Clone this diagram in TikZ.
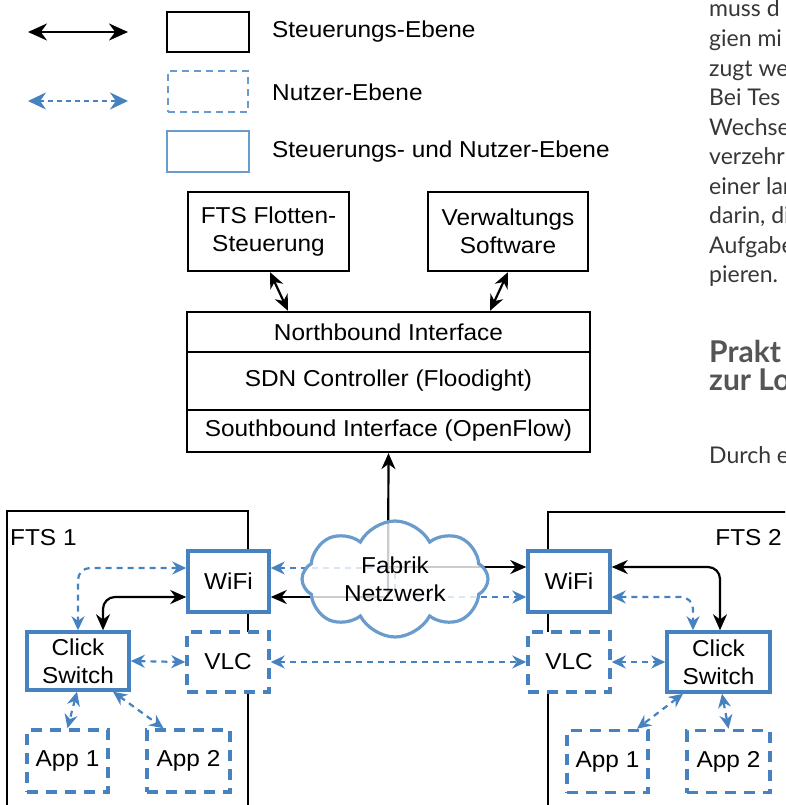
\documentclass[tikz,border=0pt]{standalone}
\usepackage{fontspec}
\setmainfont{Liberation Sans}[FakeStretch=1.06]
\newfontfamily\bodyfont{Lato}
\usetikzlibrary{arrows.meta,shapes.symbols}
\definecolor{bl}{RGB}{70,130,192}
\definecolor{bll}{RGB}{105,155,205}
\definecolor{txtg}{RGB}{55,55,55}
\definecolor{headg}{RGB}{85,85,85}
\begin{document}
\begin{tikzpicture}[x=1pt,y=-1pt,
  every node/.style={font=\fontsize{23pt}{28pt}\selectfont, inner sep=0pt},
  ctrlbox/.style={draw=black, line width=2.3pt, fill=white, align=center},
  bothbox/.style={draw=bl, line width=3.5pt, fill=white, align=center},
  userbox/.style={draw=bl, line width=3.5pt, dash pattern=on 11pt off 8pt, fill=white, align=center},
  blk/.style={line width=2.2pt, {Stealth[length=16pt,width=14pt]}-{Stealth[length=16pt,width=14pt]}},
  blkone/.style={line width=2.2pt, -{Stealth[length=16pt,width=14pt]}},
  bla/.style={draw=bl, line width=2.2pt, dash pattern=on 6pt off 5pt, {Stealth[length=14pt,width=13pt]}-{Stealth[length=14pt,width=13pt]}},
  container/.style={draw=black, line width=2.2pt},
  bodytxt/.style={font=\bodyfont\fontsize{23pt}{28pt}\selectfont, text=txtg, anchor=base west},
  headtxt/.style={font=\bodyfont\bfseries\fontsize{30pt}{32pt}\selectfont, text=headg, anchor=base west},
  legtxt/.style={anchor=west}
]
\useasboundingbox (0,0) rectangle (785,805);
\clip (0,0) rectangle (785,805);

% ---------- legend ----------
\coordinate (l1a) at (28,32);
\coordinate (l1b) at (128,32);
\draw[line width=2.6pt, {Stealth[length=19pt,width=17pt]}-{Stealth[length=19pt,width=17pt]}] (l1a) -- (l1b);
\coordinate (l2a) at (28,101);
\coordinate (l2b) at (128,101);
\draw[draw=bl, line width=2.4pt, dash pattern=on 5pt off 4pt, {Stealth[length=18pt,width=17pt]}-{Stealth[length=18pt,width=17pt]}] (l2a) -- (l2b);
\node[draw=black, line width=2.3pt, minimum width=82pt, minimum height=40pt] (lb1) at (208,32) {};
\node[draw=bll, line width=2.5pt, dash pattern=on 7pt off 5pt, minimum width=80pt, minimum height=41pt] (lb2) at (208,91.5) {};
\node[draw=bll, line width=2.5pt, minimum width=82pt, minimum height=41pt] (lb3) at (208,151.5) {};
\node[legtxt] (lt1) at (272,32) {Steuerungs-Ebene};
\node[legtxt] (lt2) at (272,92) {Nutzer-Ebene};
\node[legtxt] (lt3) at (272,152) {Steuerungs- und Nutzer-Ebene};

% ---------- top boxes ----------
\node[ctrlbox, minimum width=161pt, minimum height=79pt] (fts) at (268.5,231.5) {FTS Flotten-\\Steuerung};
\node[ctrlbox, minimum width=160pt, minimum height=79pt] (vw) at (508,231.5) {Verwaltungs\\Software};
\node[ctrlbox, minimum width=403pt, minimum height=40pt] (nb) at (388.5,332) {Northbound Interface};
\node[ctrlbox, minimum width=403pt, minimum height=58pt] (sdn) at (388.5,381) {SDN Controller (Floodight)};
\node[ctrlbox, minimum width=403pt, minimum height=42pt] (sb) at (388.5,431) {Southbound Interface (OpenFlow)};
\draw[blk] ([xshift=1.5pt]fts.south) -- ([xshift=-100.5pt]nb.north);
\draw[blk] (vw.south) -- ([xshift=101.5pt]nb.north);

% ---------- containers ----------
\draw[container] (7,830) -- (7,511) -- (248,511) -- (248,830);
\draw[container] (800,512) -- (548,512) -- (548,830);
\node[anchor=west] (fts1lbl) at (10,538) {FTS 1};
\node[anchor=east] (fts2lbl) at (782,538) {FTS 2};

% ---------- FTS nodes ----------
\node[bothbox, minimum width=81pt, minimum height=61pt] (wifi1) at (228.5,581.5) {WiFi};
\node[bothbox, minimum width=82pt, minimum height=61pt] (wifi2) at (569,581.5) {WiFi};
\node[userbox, minimum width=82pt, minimum height=60pt] (vlc1) at (228,662) {VLC};
\node[userbox, minimum width=82pt, minimum height=60pt] (vlc2) at (569,662) {VLC};
\node[bothbox, minimum width=102pt, minimum height=58pt] (click1) at (78,661) {Click\\Switch};
\node[bothbox, minimum width=103pt, minimum height=60pt] (click2) at (718.5,662) {Click\\Switch};
\node[userbox, minimum width=81pt, minimum height=62pt] (app1) at (67.5,761) {App 1};
\node[userbox, minimum width=83pt, minimum height=62pt] (app2) at (188.5,761) {App 2};
\node[userbox, minimum width=81pt, minimum height=62pt] (app1b) at (607.5,761.5) {App 1};
\node[userbox, minimum width=83pt, minimum height=62pt] (app2b) at (728.5,761.5) {App 2};

% ---------- network connections (behind cloud) ----------
\coordinate (hubL) at (388,597);
\coordinate (hubR) at (388,567);
\draw[blkone] (hubL) -- (sb.south);
\draw[blkone] (hubL) -- (hubL -| wifi1.east);
\draw[blkone] (hubR) -- (hubR -| wifi2.west);
\coordinate (cA) at (395,568);
\coordinate (cB) at (395,597);
\draw[bla] ([yshift=13.5pt]wifi1.east) -- (cA) -- (cB) -- ([yshift=-15.5pt]wifi2.west);

\node[cloud, cloud puffs=8, cloud puff arc=125, cloud ignores aspect, draw=bll, line width=3.2pt,
      fill=white, fill opacity=0.8, text opacity=1, minimum width=186pt, minimum height=116pt,
      align=center] (cloud) at (395,579) {Fabrik\\Netzwerk};

% ---------- FTS 1 connections ----------
\draw[blk, rounded corners=12pt] ([yshift=-15.5pt]wifi1.west) -| ([xshift=25pt]click1.north);
\draw[bla, rounded corners=12pt] ([yshift=13.5pt]wifi1.west) -| (click1.north);
\draw[bla] (click1.east) -- (vlc1.west);
\draw[bla] ([xshift=-1pt]click1.south) -- (app1.north);
\draw[bla] ([xshift=35pt]click1.south) -- ([xshift=-25pt]app2.north);

% ---------- VLC link ----------
\draw[bla] (vlc1.east) -- (vlc2.west);

% ---------- FTS 2 connections ----------
\draw[blk, rounded corners=12pt] ([yshift=14.5pt]wifi2.east) -| ([xshift=1.5pt]click2.north);
\draw[bla, rounded corners=12pt] ([yshift=-15.5pt]wifi2.east) -| ([xshift=-25.5pt]click2.north);
\draw[bla] (vlc2.east) -- (click2.west);
\draw[bla] ([xshift=-35.5pt]click2.south) -- ([xshift=29.5pt]app1b.north);
\draw[bla] ([xshift=3.5pt]click2.south) -- (app2b.north);

% ---------- surrounding page text ----------
\node[bodytxt] (p1) at (709,17) {muss d};
\node[bodytxt] (p2) at (709,47) {gien mi};
\node[bodytxt] (p3) at (709,76.5) {zugt we};
\node[bodytxt] (p4) at (709,106) {Bei Tes};
\node[bodytxt] (p5) at (709,135.5) {Wechse};
\node[bodytxt] (p6) at (709,165) {verzehr};
\node[bodytxt] (p7) at (709,194) {einer lar};
\node[bodytxt] (p8) at (709,223.5) {darin, di};
\node[bodytxt] (p9) at (709,253) {Aufgabe};
\node[bodytxt] (p10) at (709,282) {pieren.};
\node[headtxt] (h1) at (709,362) {Prakt};
\node[headtxt] (h2) at (709,390) {zur Lo};
\node[bodytxt] (p11) at (709,463) {Durch e};
\end{tikzpicture}
\end{document}
